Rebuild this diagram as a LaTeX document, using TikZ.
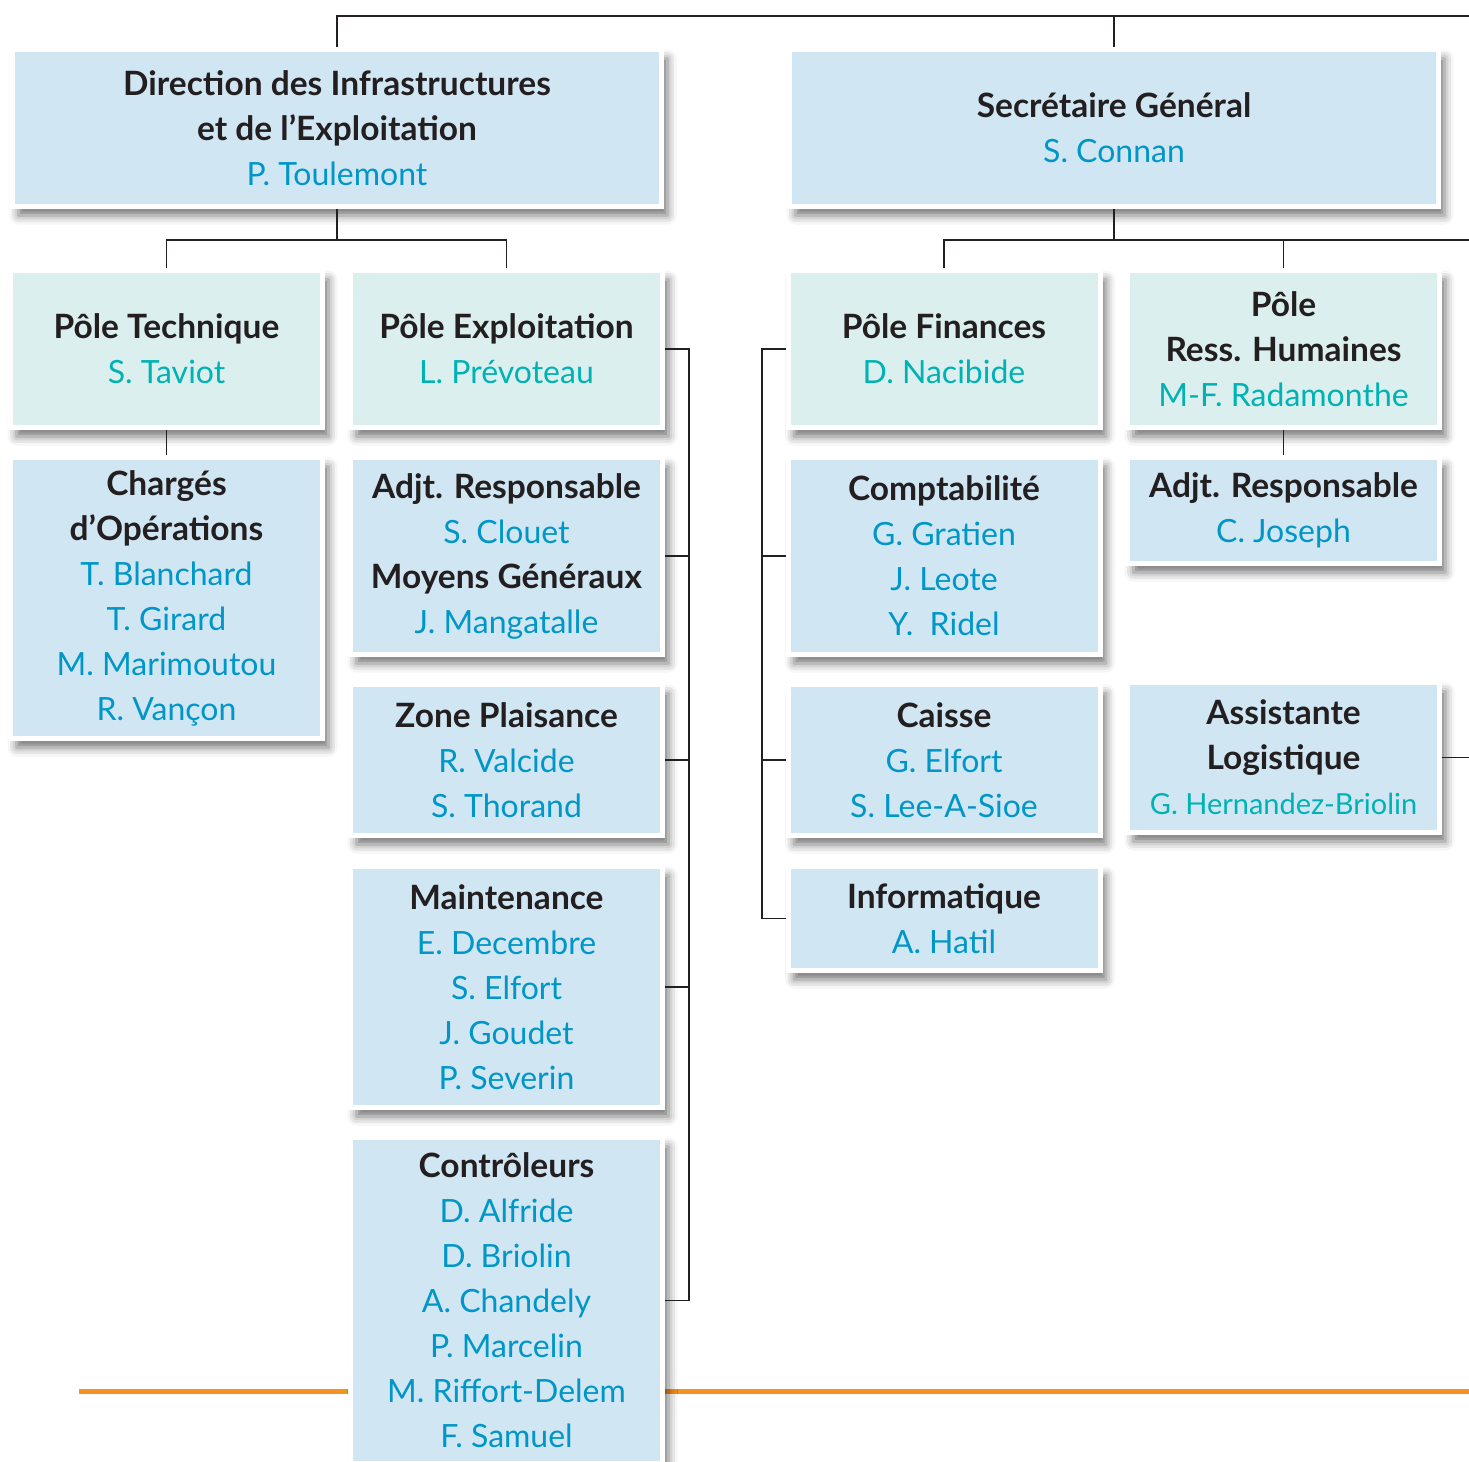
\documentclass[tikz,border=0pt]{standalone}
\usepackage{fontspec}
\setmainfont{Lato}
\usetikzlibrary{positioning}
\usetikzlibrary{shadows.blur}
\definecolor{boxblue}{HTML}{D0E6F3}
\definecolor{boxteal}{HTML}{DCEFEF}
\definecolor{nameblue}{HTML}{0096C8}
\definecolor{nameteal}{HTML}{00B2B4}
\definecolor{inkblack}{HTML}{231F20}
\definecolor{bandorange}{HTML}{F59220}
\newcommand{\pers}[1]{{\fontsize{32}{45}\selectfont\mdseries\color{nameblue}#1}}
\newcommand{\perst}[1]{{\fontsize{32}{45}\selectfont\mdseries\color{nameteal}#1}}

\begin{document}
\begin{tikzpicture}[x=1pt,y=-1pt,
  unit/.style={rectangle,fill=boxblue,draw=white,line width=5pt,inner sep=2pt,
    minimum width=312pt,align=center,text=inkblack,
    font=\fontsize{33.5}{45}\selectfont\bfseries,
    blur shadow={shadow xshift=6pt,shadow yshift=-9pt,shadow blur radius=9pt,shadow opacity=55}},
  pole/.style={unit,fill=boxteal,minimum height=157pt},
  link/.style={draw=inkblack,line width=1.4pt}]

  \useasboundingbox (0,0) rectangle (1469,1461);

  % orange band behind the boxes
  \draw[bandorange,line width=5pt] (79,1391) -- (1469,1391);

  \node[unit,minimum width=649pt,minimum height=157pt] at (337,128) (dir)
    {Direction des Infrastructures\\et de l'Exploitation\\\pers{P. Toulemont}};
  \node[unit,minimum width=649pt,minimum height=157pt] at (1114,128) (sg)
    {Secrétaire Général\\\pers{S. Connan}};

  \node[pole] at (166.5,349) (pt) {Pôle Technique\\\perst{S. Taviot}};
  \node[pole] at (506.5,349) (pex) {Pôle Exploitation\\\perst{L. Prévoteau}};
  \node[pole] at (944,349) (pfin) {Pôle Finances\\\perst{D. Nacibide}};
  \node[pole] at (1283.5,349) (prh) {Pôle\\Ress. Humaines\\\perst{M-F. Radamonthe}};

  \node[unit,minimum height=281pt] at (166.5,598) (charg)
    {Chargés\\d'Opérations\\\pers{T. Blanchard}\\\pers{T. Girard}\\\pers{M. Marimoutou}\\\pers{R. Vançon}};

  \node[unit,minimum height=197pt] at (506.5,556) (adj)
    {Adjt. Responsable\\\pers{S. Clouet}\\Moyens Généraux\\\pers{J. Mangatalle}};
  \node[unit,minimum height=151pt] at (506.5,760) (zone)
    {Zone Plaisance\\\pers{R. Valcide}\\\pers{S. Thorand}};
  \node[unit,minimum height=241pt] at (506.5,987) (maint)
    {Maintenance\\\pers{E. Decembre}\\\pers{S. Elfort}\\\pers{J. Goudet}\\\pers{P. Severin}};
  \node[unit,minimum height=326pt] at (506.5,1300.5) (ctrl)
    {Contrôleurs\\\pers{D. Alfride}\\\pers{D. Briolin}\\\pers{A. Chandely}\\\pers{P. Marcelin}\\\pers{M. Riffort-Delem}\\\pers{F. Samuel}};

  \node[unit,minimum height=197pt] at (944,556) (compta)
    {Comptabilité\\\pers{G. Gratien}\\\pers{J. Leote}\\\pers{Y.\ \ Ridel}};
  \node[unit,minimum height=151pt] at (944,760) (caisse)
    {Caisse\\\pers{G. Elfort}\\\pers{S. Lee-A-Sioe}};
  \node[unit,minimum height=104pt] at (944,918.5) (info)
    {Informatique\\\pers{A. Hatil}};

  \node[unit,minimum height=106pt] at (1283.5,510.5) (adjrh)
    {Adjt. Responsable\\\pers{C. Joseph}};
  \node[unit,minimum height=150pt] at (1283.5,757.5) (assist)
    {Assistante\\Logistique\\\perst{\fontsize{29}{45}\selectfont G. Hernandez-Briolin}};

  \coordinate (top) at (1469,16);
  \coordinate (sgrow) at (1469,240);
  \coordinate (exbar) at (689,0);
  \coordinate (finbar) at (762,0);

  % top of the tree
  \draw[link] (dir.north) |- (top);
  \draw[link] (sg.north) -- (sg.north |- top);

  % under the direction
  \draw[link] (dir.south) -- ++(0,31) coordinate (dj);
  \draw[link] (pt.north) |- (dj) -| (pex.north);
  \draw[link] (pt.south) -- (charg.north);

  % under the secretary
  \draw[link] (sg.south) -- (sg.south |- sgrow);
  \draw[link] (pfin.north) |- (sgrow);
  \draw[link] (prh.north) -- (prh.north |- sgrow);
  \draw[link] (prh.south) -- (adjrh.north);
  \draw[link] (assist.east) -- (assist.east -| sgrow);

  % exploitation bracket
  \draw[link] (pex.east) -- (pex.east -| exbar) -- (ctrl.east -| exbar) -- (ctrl.east);
  \foreach \n in {adj,zone,maint}
    \draw[link] (\n.east) -- (\n.east -| exbar);

  % finances bracket
  \draw[link] (pfin.west) -- (pfin.west -| finbar) -- (info.west -| finbar) -- (info.west);
  \foreach \n in {compta,caisse}
    \draw[link] (\n.west) -- (\n.west -| finbar);

\end{tikzpicture}
\end{document}
